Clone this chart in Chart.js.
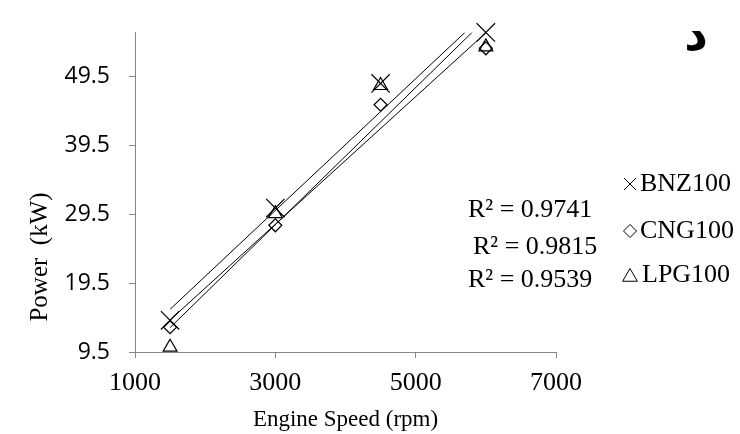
<!DOCTYPE html>
<html><head><meta charset="utf-8">
<script src="https://cdn.jsdelivr.net/npm/chart.js@4"></script>
<style>html,body{margin:0;padding:0;background:#fff}#wrap{width:740px;height:434px}</style>
</head><body><div id="wrap"><canvas id="c" width="740" height="434"></canvas></div>
<script>
const speeds = [1500, 3000, 4500, 6000];
const bnz100 = [14.1, 30.4, 48.5, 55.9];
const cng100 = [13.1, 27.9, 45.4, 53.6];
const lpg100 = [10.2, 29.6, 48.2, 53.8];
const seriesNames = ['BNZ100', 'CNG100', 'LPG100'];
const r2Labels = ['R² = 0.9741', 'R² = 0.9815', 'R² = 0.9539'];
const yTicks = [9.5, 19.5, 29.5, 39.5, 49.5];
const xTicks = [1000, 3000, 5000, 7000];
const xTitle = 'Engine Speed (rpm)';
const yTitle = 'Power  (kW)';
const panelLetter = 'د';

function fit(xs, ys) {
  const n = xs.length;
  const mx = xs.reduce((a, b) => a + b, 0) / n;
  const my = ys.reduce((a, b) => a + b, 0) / n;
  let sxy = 0, sxx = 0;
  for (let i = 0; i < n; i++) { sxy += (xs[i] - mx) * (ys[i] - my); sxx += (xs[i] - mx) ** 2; }
  const m = sxy / sxx, b = my - m * mx;
  const x0 = xs[0], x1 = xs[n - 1];
  return [{x: x0, y: m * x0 + b}, {x: x1, y: m * x1 + b}];
}
const pts = ys => speeds.map((x, i) => ({x, y: ys[i]}));

const AXIS = '#868686';
const markerBase = {showLine: false, borderColor: '#000', backgroundColor: 'rgba(0,0,0,0)', pointBorderWidth: 1.2, clip: false};
const trendBase = {type: 'line', showLine: true, borderColor: '#000', borderWidth: 1, pointRadius: 0, fill: false, tension: 0};

const annot = {
  id: 'annot',
  afterDraw(chart) {
    const ctx = chart.ctx;
    ctx.save();
    ctx.fillStyle = '#000';
    ctx.strokeStyle = '#000';
    // y title
    ctx.save();
    ctx.translate(40, 257);
    ctx.rotate(-Math.PI / 2);
    ctx.font = '25px "Liberation Serif"';
    ctx.textAlign = 'center';
    ctx.textBaseline = 'middle';
    ctx.fillText(yTitle, 0, 0);
    ctx.restore();
    // R² labels
    ctx.font = '26px "Liberation Serif"';
    ctx.textAlign = 'left';
    ctx.textBaseline = 'middle';
    const r2pos = [[468, 210], [473, 247], [468, 280]];
    r2Labels.forEach((t, i) => ctx.fillText(t, r2pos[i][0], r2pos[i][1]));
    // legend
    const styles = ['crossRot', 'rectRot', 'triangle'];
    const rads = [8.5, 6.5, 8.5];
    const legY = [184, 231, 275];
    const legX = [640, 640, 642];
    ctx.save();
    ctx.fillStyle = 'rgba(0,0,0,0)';
    ctx.lineWidth = 1;
    styles.forEach((s, i) => {
      Chart.helpers.drawPoint(ctx, {pointStyle: s, radius: rads[i], borderWidth: 1}, 630, legY[i] + (s === 'triangle' ? 2 : 0));
    });
    ctx.restore();
    ctx.fillStyle = '#000';
    ctx.font = '26px "Liberation Serif"';
    ctx.textAlign = 'left';
    ctx.textBaseline = 'middle';
    seriesNames.forEach((t, i) => ctx.fillText(t, legX[i], legY[i]));
    // panel letter
    ctx.font = 'bold 46px "DejaVu Sans"';
    ctx.textAlign = 'center';
    ctx.textBaseline = 'alphabetic';
    ctx.fillText(panelLetter, 696, 50);
    ctx.restore();
  }
};

new Chart(document.getElementById('c'), {
  type: 'scatter',
  data: {
    datasets: [
      {...trendBase, label: 'BNZ fit', data: fit(speeds, bnz100)},
      {...trendBase, label: 'CNG fit', data: fit(speeds, cng100)},
      {...trendBase, label: 'LPG fit', data: fit(speeds, lpg100)},
      {...markerBase, label: seriesNames[0], data: pts(bnz100), pointStyle: 'crossRot', pointRadius: 13},
      {...markerBase, label: seriesNames[1], data: pts(cng100), pointStyle: 'rectRot', pointRadius: 6.5},
      {...markerBase, label: seriesNames[2], data: pts(lpg100), pointStyle: 'triangle', pointRadius: 8}
    ]
  },
  options: {
    responsive: false,
    devicePixelRatio: 1,
    animation: false,
    events: [],
    layout: {padding: {top: 21, right: 184, left: 0, bottom: 0}},
    plugins: {legend: {display: false}, tooltip: {enabled: false}, title: {display: false}},
    scales: {
      x: {
        type: 'linear', min: 1000, max: 7000,
        afterBuildTicks: s => { s.ticks = xTicks.map(v => ({value: v})); },
        afterFit: s => { s.height = 82; },
        grid: {display: true, drawOnChartArea: false, drawTicks: true, tickLength: 6, color: AXIS},
        border: {display: true, color: AXIS, width: 1},
        ticks: {color: '#000', font: {family: '"Liberation Serif"', size: 26}, padding: 10, callback: v => String(v), maxRotation: 0, autoSkip: false},
        title: {display: true, text: xTitle, color: '#000', font: {family: '"Liberation Serif"', size: 23}, padding: {top: 0, bottom: 0}}
      },
      y: {
        type: 'linear', min: 9.5, max: 55.85,
        afterBuildTicks: s => { s.ticks = yTicks.map(v => ({value: v})); },
        afterFit: s => { s.width = 135; },
        grid: {display: true, drawOnChartArea: false, drawTicks: true, tickLength: 6, color: AXIS},
        border: {display: true, color: AXIS, width: 1},
        ticks: {color: '#000', font: {family: '"Open Sans"', size: 23}, padding: 19, callback: v => String(v), autoSkip: false}
      }
    }
  },
  plugins: [annot]
});
</script>
</body></html>
